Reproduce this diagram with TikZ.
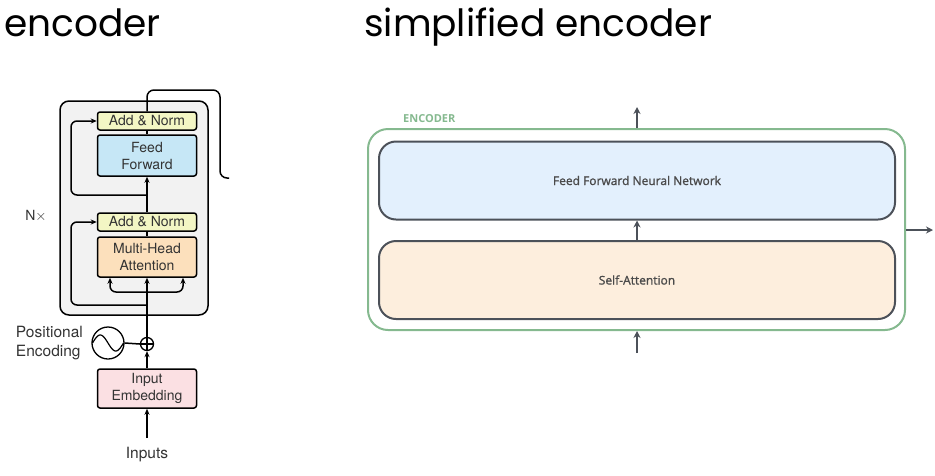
\documentclass[tikz,border=0pt]{standalone}
\usepackage{fontspec}
\setmainfont{TeX Gyre Heros}
\newfontfamily\titlefont{Poppins}
\newfontfamily\osans[FakeBold=1.3]{Open Sans}
\newfontfamily\osansb{Open Sans}
\usetikzlibrary{arrows.meta,calc}
\definecolor{grayfill}{HTML}{F2F2F2}
\definecolor{normfill}{HTML}{F3F6C4}
\definecolor{fffill}{HTML}{C6E7F6}
\definecolor{mhafill}{HTML}{FCE0BC}
\definecolor{embfill}{HTML}{FBE0E3}
\definecolor{ffnnfill}{HTML}{E3F0FD}
\definecolor{safill}{HTML}{FDEEDD}
\definecolor{darkborder}{HTML}{4C5159}
\definecolor{encgreen}{HTML}{85B98F}
\definecolor{labelgray}{HTML}{4A4A4A}
\tikzset{
  lbox/.style={draw=black, line width=1.5pt, rounded corners=2.5pt, inner sep=0pt, minimum width=99pt, font=\fontsize{14}{17}\selectfont, align=center, text=black!80},
  conn/.style={line width=1.5pt, draw=black},
  carrow/.style={conn, -{Stealth[length=6pt,width=5pt]}},
  rbox/.style={draw=darkborder, line width=2pt, rounded corners=17pt, minimum width=516pt, minimum height=78pt, inner sep=0pt, font=\osans\fontsize{12}{14}\selectfont, text=labelgray},
  rarrow/.style={line width=1.8pt, draw=darkborder, -{Stealth[length=7pt,width=7pt]}},
  ltext/.style={font=\fontsize{15.5}{19}\selectfont, text=black!80, inner sep=0pt}
}
\begin{document}
\begin{tikzpicture}[x=1pt,y=-1pt]
\useasboundingbox (0,0) rectangle (935,475);
% titles
\node[anchor=base west, inner sep=0pt, font=\titlefont\fontsize{37.5}{40}\selectfont] (t1) at (4,36) {encoder};
\node[anchor=base west, inner sep=0pt, font=\titlefont\fontsize{37.5}{40}\selectfont] (t2) at (364,36) {simplified encoder};

% ---------------- left diagram
\node[draw=black, line width=1.5pt, fill=grayfill, rounded corners=9pt, minimum width=148pt, minimum height=214pt, inner sep=0pt] (stack) at (134,208) {};
\node[lbox, fill=normfill, minimum height=18pt] (an2) at (147,121) {Add \& Norm};
\node[lbox, fill=fffill, minimum height=41pt] (ff) at (147,155.5) {Feed\\Forward};
\node[lbox, fill=normfill, minimum height=18pt] (an1) at (147,222) {Add \& Norm};
\node[lbox, fill=mhafill, minimum height=40pt] (mha) at (147,257) {Multi-Head\\Attention};
\node[lbox, fill=embfill, minimum height=39pt] (emb) at (147,388.5) {Input\\Embedding};
\node[ltext, font=\fontsize{14}{17}\selectfont] (nx) at (36,216) {N$\times$};
\node[ltext, anchor=base] (inp) at (147,458) {Inputs};
\node[ltext, align=left, anchor=east] (pos) at (83,343) {Positional\\Encoding};
\node[draw=black, line width=1.3pt, circle, minimum size=32pt, inner sep=0pt] (sine) at (108,343) {};
\draw[line width=1.2pt] plot[domain=-15.5:15.5, samples=40, smooth] ({108+\x}, {343+8*sin(\x*11.6)});
\node[draw=black, line width=1.3pt, circle, minimum size=13pt, inner sep=0pt] (plus) at (147,344) {};
\draw[line width=1.2pt] (plus.north) -- (plus.south) (plus.west) -- (plus.east);
\coordinate (inbot) at (147,438);
\coordinate (outend) at (229,178);
% connectors
\draw[carrow] (inbot) -- (emb.south);
\draw[carrow] (emb.north) -- (plus.south);
\draw[conn] (sine.east) -- (plus.west);
\draw[carrow] (plus.north) -- (mha.south);
\draw[carrow, rounded corners=6pt] (147,292) -- (110,292) -- (mha.south -| 110,0);
\draw[carrow, rounded corners=6pt] (147,292) -- (183,292) -- (mha.south -| 183,0);
\draw[carrow, rounded corners=6pt] (147,305) -- (71,305) -- (71,222) -- (an1.west);
\draw[conn] (mha.north) -- (an1.south);
\draw[carrow] (an1.north) -- (ff.south);
\draw[carrow, rounded corners=6pt] (147,195) -- (71,195) -- (71,121) -- (an2.west);
\draw[conn] (ff.north) -- (an2.south);
\draw[conn, rounded corners=7pt] (an2.north) -- (147,90) -- (220,90) -- (220,178) -- (outend);

% ---------------- right diagram
\node[draw=encgreen, line width=2pt, rounded corners=20pt, minimum width=537pt, minimum height=201pt, inner sep=0pt] (enc) at (636.5,229.5) {};
\node[anchor=base west, inner sep=0pt, font=\osansb\bfseries\fontsize{11}{13}\selectfont, text=encgreen] (enclabel) at (403,122) {ENCODER};
\node[rbox, fill=ffnnfill] (ffnn) at (637,180.5) {Feed Forward Neural Network};
\node[rbox, fill=safill] (sa) at (637,280) {Self-Attention};
\coordinate (rin) at (637,353);
\coordinate (rout) at (637,107);
\coordinate (rright) at (933,230);
\draw[rarrow] (rin) -- (enc.south -| rin);
\draw[rarrow] (sa.north) -- (ffnn.south);
\draw[rarrow] (enc.north -| rout) -- (rout);
\draw[rarrow] (enc.east |- rright) -- (rright);
\end{tikzpicture}
\end{document}
